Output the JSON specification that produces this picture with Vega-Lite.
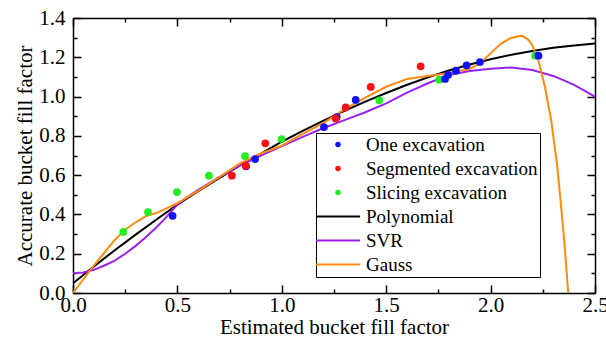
{
  "$schema": "https://vega.github.io/schema/vega-lite/v6.json",
  "width": 522,
  "height": 275,
  "autosize": {"type": "none"},
  "padding": {"left": 73, "top": 18, "right": 11, "bottom": 50},
  "background": "white",
  "config": {
    "view": {"stroke": null},
    "axis": {"grid": false, "domainColor": "black", "domainWidth": 1.5, "tickColor": "black", "tickWidth": 1.5,
      "labelFont": "Liberation Serif", "labelFontSize": 21, "labelColor": "black",
      "titleFont": "Liberation Serif", "titleFontSize": 21, "titleFontWeight": "normal", "titleColor": "black",
      "labelOverlap": false, "labelFlush": false}
  },
  "datasets": {
    "pts": [
      {"series": "Slicing excavation", "x": 0.241, "y": 0.311},
      {"series": "Slicing excavation", "x": 0.359, "y": 0.412},
      {"series": "Slicing excavation", "x": 0.498, "y": 0.514},
      {"series": "Slicing excavation", "x": 0.651, "y": 0.597},
      {"series": "Slicing excavation", "x": 0.824, "y": 0.697},
      {"series": "Slicing excavation", "x": 0.999, "y": 0.784},
      {"series": "Slicing excavation", "x": 1.467, "y": 0.981},
      {"series": "Slicing excavation", "x": 1.754, "y": 1.086},
      {"series": "Slicing excavation", "x": 2.213, "y": 1.208},
      {"series": "One excavation", "x": 0.477, "y": 0.393},
      {"series": "One excavation", "x": 0.829, "y": 0.645},
      {"series": "One excavation", "x": 0.872, "y": 0.682},
      {"series": "One excavation", "x": 1.202, "y": 0.845},
      {"series": "One excavation", "x": 1.263, "y": 0.896},
      {"series": "One excavation", "x": 1.354, "y": 0.983},
      {"series": "One excavation", "x": 1.782, "y": 1.09},
      {"series": "One excavation", "x": 1.797, "y": 1.111},
      {"series": "One excavation", "x": 1.834, "y": 1.132},
      {"series": "One excavation", "x": 1.885, "y": 1.159},
      {"series": "One excavation", "x": 1.949, "y": 1.176},
      {"series": "One excavation", "x": 2.229, "y": 1.208},
      {"series": "Segmented excavation", "x": 0.761, "y": 0.597},
      {"series": "Segmented excavation", "x": 0.827, "y": 0.648},
      {"series": "Segmented excavation", "x": 0.921, "y": 0.762},
      {"series": "Segmented excavation", "x": 1.258, "y": 0.889},
      {"series": "Segmented excavation", "x": 1.306, "y": 0.945},
      {"series": "Segmented excavation", "x": 1.426, "y": 1.049},
      {"series": "Segmented excavation", "x": 1.665, "y": 1.154}
    ],
    "curves": [
      {"series": "Polynomial", "x": 0.0, "y": 0.05},
      {"series": "Polynomial", "x": 0.1, "y": 0.135},
      {"series": "Polynomial", "x": 0.2, "y": 0.218},
      {"series": "Polynomial", "x": 0.3, "y": 0.297},
      {"series": "Polynomial", "x": 0.4, "y": 0.374},
      {"series": "Polynomial", "x": 0.5, "y": 0.45},
      {"series": "Polynomial", "x": 0.6, "y": 0.518},
      {"series": "Polynomial", "x": 0.7, "y": 0.585},
      {"series": "Polynomial", "x": 0.8, "y": 0.65},
      {"series": "Polynomial", "x": 0.9, "y": 0.71},
      {"series": "Polynomial", "x": 1.0, "y": 0.77},
      {"series": "Polynomial", "x": 1.1, "y": 0.825},
      {"series": "Polynomial", "x": 1.2, "y": 0.878},
      {"series": "Polynomial", "x": 1.3, "y": 0.927},
      {"series": "Polynomial", "x": 1.4, "y": 0.974},
      {"series": "Polynomial", "x": 1.5, "y": 1.018},
      {"series": "Polynomial", "x": 1.6, "y": 1.06},
      {"series": "Polynomial", "x": 1.7, "y": 1.098},
      {"series": "Polynomial", "x": 1.8, "y": 1.133},
      {"series": "Polynomial", "x": 1.9, "y": 1.163},
      {"series": "Polynomial", "x": 2.0, "y": 1.19},
      {"series": "Polynomial", "x": 2.1, "y": 1.213},
      {"series": "Polynomial", "x": 2.2, "y": 1.232},
      {"series": "Polynomial", "x": 2.3, "y": 1.248},
      {"series": "Polynomial", "x": 2.4, "y": 1.26},
      {"series": "Polynomial", "x": 2.5, "y": 1.27},
      {"series": "SVR", "x": 0.0, "y": 0.1},
      {"series": "SVR", "x": 0.05, "y": 0.104},
      {"series": "SVR", "x": 0.1, "y": 0.118},
      {"series": "SVR", "x": 0.15, "y": 0.14},
      {"series": "SVR", "x": 0.2, "y": 0.165},
      {"series": "SVR", "x": 0.25, "y": 0.2},
      {"series": "SVR", "x": 0.3, "y": 0.24},
      {"series": "SVR", "x": 0.35, "y": 0.285},
      {"series": "SVR", "x": 0.4, "y": 0.335},
      {"series": "SVR", "x": 0.45, "y": 0.39},
      {"series": "SVR", "x": 0.5, "y": 0.45},
      {"series": "SVR", "x": 0.55, "y": 0.49},
      {"series": "SVR", "x": 0.6, "y": 0.525},
      {"series": "SVR", "x": 0.7, "y": 0.59},
      {"series": "SVR", "x": 0.8, "y": 0.65},
      {"series": "SVR", "x": 0.9, "y": 0.7},
      {"series": "SVR", "x": 1.0, "y": 0.748},
      {"series": "SVR", "x": 1.1, "y": 0.795},
      {"series": "SVR", "x": 1.2, "y": 0.84},
      {"series": "SVR", "x": 1.3, "y": 0.88},
      {"series": "SVR", "x": 1.4, "y": 0.92},
      {"series": "SVR", "x": 1.5, "y": 0.965},
      {"series": "SVR", "x": 1.6, "y": 1.02},
      {"series": "SVR", "x": 1.7, "y": 1.068},
      {"series": "SVR", "x": 1.8, "y": 1.11},
      {"series": "SVR", "x": 1.9, "y": 1.13},
      {"series": "SVR", "x": 2.0, "y": 1.142},
      {"series": "SVR", "x": 2.1, "y": 1.148},
      {"series": "SVR", "x": 2.2, "y": 1.135},
      {"series": "SVR", "x": 2.3, "y": 1.105},
      {"series": "SVR", "x": 2.4, "y": 1.06},
      {"series": "SVR", "x": 2.5, "y": 1.0},
      {"series": "Gauss", "x": 0.0, "y": 0.0},
      {"series": "Gauss", "x": 0.05, "y": 0.07},
      {"series": "Gauss", "x": 0.1, "y": 0.14},
      {"series": "Gauss", "x": 0.15, "y": 0.205},
      {"series": "Gauss", "x": 0.2, "y": 0.27},
      {"series": "Gauss", "x": 0.25, "y": 0.322},
      {"series": "Gauss", "x": 0.3, "y": 0.36},
      {"series": "Gauss", "x": 0.35, "y": 0.392},
      {"series": "Gauss", "x": 0.4, "y": 0.407},
      {"series": "Gauss", "x": 0.45, "y": 0.432},
      {"series": "Gauss", "x": 0.5, "y": 0.458},
      {"series": "Gauss", "x": 0.6, "y": 0.52},
      {"series": "Gauss", "x": 0.7, "y": 0.59},
      {"series": "Gauss", "x": 0.8, "y": 0.66},
      {"series": "Gauss", "x": 0.9, "y": 0.71},
      {"series": "Gauss", "x": 1.0, "y": 0.75},
      {"series": "Gauss", "x": 1.1, "y": 0.81},
      {"series": "Gauss", "x": 1.2, "y": 0.866},
      {"series": "Gauss", "x": 1.3, "y": 0.935},
      {"series": "Gauss", "x": 1.4, "y": 0.995},
      {"series": "Gauss", "x": 1.5, "y": 1.05},
      {"series": "Gauss", "x": 1.6, "y": 1.09},
      {"series": "Gauss", "x": 1.7, "y": 1.105},
      {"series": "Gauss", "x": 1.8, "y": 1.12},
      {"series": "Gauss", "x": 1.9, "y": 1.14},
      {"series": "Gauss", "x": 1.95, "y": 1.17},
      {"series": "Gauss", "x": 2.0, "y": 1.22},
      {"series": "Gauss", "x": 2.05, "y": 1.27},
      {"series": "Gauss", "x": 2.1, "y": 1.3},
      {"series": "Gauss", "x": 2.15, "y": 1.31},
      {"series": "Gauss", "x": 2.18, "y": 1.29},
      {"series": "Gauss", "x": 2.2, "y": 1.26},
      {"series": "Gauss", "x": 2.23, "y": 1.18},
      {"series": "Gauss", "x": 2.26, "y": 1.05},
      {"series": "Gauss", "x": 2.29, "y": 0.88},
      {"series": "Gauss", "x": 2.32, "y": 0.64},
      {"series": "Gauss", "x": 2.35, "y": 0.3},
      {"series": "Gauss", "x": 2.372, "y": 0.0}
    ]
  },
  "layer": [
    {
      "data": {"name": "curves"},
      "mark": {"type": "line", "strokeWidth": 2, "clip": true},
      "encoding": {
        "x": {"field": "x", "type": "quantitative", "scale": {"domain": [0, 2.5], "nice": false},
          "axis": {"orient": "bottom", "title": "Estimated bucket fill factor", "values": [0,0.25,0.5,0.75,1,1.25,1.5,1.75,2,2.25,2.5],
            "labelExpr": "round(datum.value*4) % 2 == 0 ? format(datum.value, '.1f') : ''",
            "tickSize": {"condition": {"test": "round(datum.value*4) % 2 != 0", "value": -4}, "value": -8},
            "labelPadding": 9, "titlePadding": -3}},
        "y": {"field": "y", "type": "quantitative", "scale": {"domain": [0, 1.4], "nice": false},
          "axis": {"orient": "left", "title": "Accurate bucket fill factor", "values": [0,0.1,0.2,0.3,0.4,0.5,0.6,0.7,0.8,0.9,1,1.1,1.2,1.3,1.4],
            "labelExpr": "round(datum.value*10) % 2 == 0 ? format(datum.value, '.1f') : ''",
            "tickSize": {"condition": {"test": "round(datum.value*10) % 2 != 0", "value": -4}, "value": -8},
            "labelPadding": 16, "titlePadding": 3}},
        "color": {"field": "series", "type": "nominal",
          "scale": {"domain": ["One excavation", "Segmented excavation", "Slicing excavation", "Polynomial", "SVR", "Gauss"],
            "range": ["#1010ff", "#ff1010", "#22ee22", "#000000", "#9a22f0", "#ff8a10"]},
          "legend": {"orient": "none", "legendX": 243, "legendY": 115, "title": null, "strokeColor": "black", "padding": 2,
            "labelFont": "Liberation Serif", "labelFontSize": 19, "labelColor": "black", "rowPadding": 4, "symbolSize": 30, "labelLimit": 300,
            "encode": {
              "symbols": {"update": {
                "shape": {"signal": "indexof(['Polynomial','SVR','Gauss'], datum.value) >= 0 ? 'stroke' : 'circle'"},
                "size": {"signal": "indexof(['Polynomial','SVR','Gauss'], datum.value) >= 0 ? 1936 : 30"},
                "strokeWidth": {"signal": "indexof(['Polynomial','SVR','Gauss'], datum.value) >= 0 ? 2 : 0"},
                "fill": {"signal": "scale('color', datum.value)"},
                "stroke": {"signal": "scale('color', datum.value)"},
                "opacity": {"value": 1},
                "fillOpacity": {"value": 1},
                "x": {"value": 20}
              }},
              "labels": {"update": {"x": {"value": 48}}}
            }}}
      }
    },
    {
      "data": {"name": "pts"},
      "mark": {"type": "circle", "size": 60, "opacity": 1},
      "encoding": {
        "x": {"field": "x", "type": "quantitative", "axis": null},
        "y": {"field": "y", "type": "quantitative", "axis": null},
        "color": {"field": "series", "type": "nominal"}
      }
    },
    {
      "data": {"name": "pts"},
      "mark": {"type": "point", "opacity": 0},
      "encoding": {
        "x": {"field": "x", "type": "quantitative",
          "axis": {"orient": "top", "title": null, "labels": false, "values": [0,0.25,0.5,0.75,1,1.25,1.5,1.75,2,2.25,2.5],
            "tickSize": {"condition": {"test": "round(datum.value*4) % 2 != 0", "value": -4}, "value": -8}}},
        "y": {"field": "y", "type": "quantitative",
          "axis": {"orient": "right", "title": null, "labels": false, "values": [0,0.1,0.2,0.3,0.4,0.5,0.6,0.7,0.8,0.9,1,1.1,1.2,1.3,1.4],
            "tickSize": {"condition": {"test": "round(datum.value*10) % 2 != 0", "value": -4}, "value": -8}}}
      }
    }
  ]
}
